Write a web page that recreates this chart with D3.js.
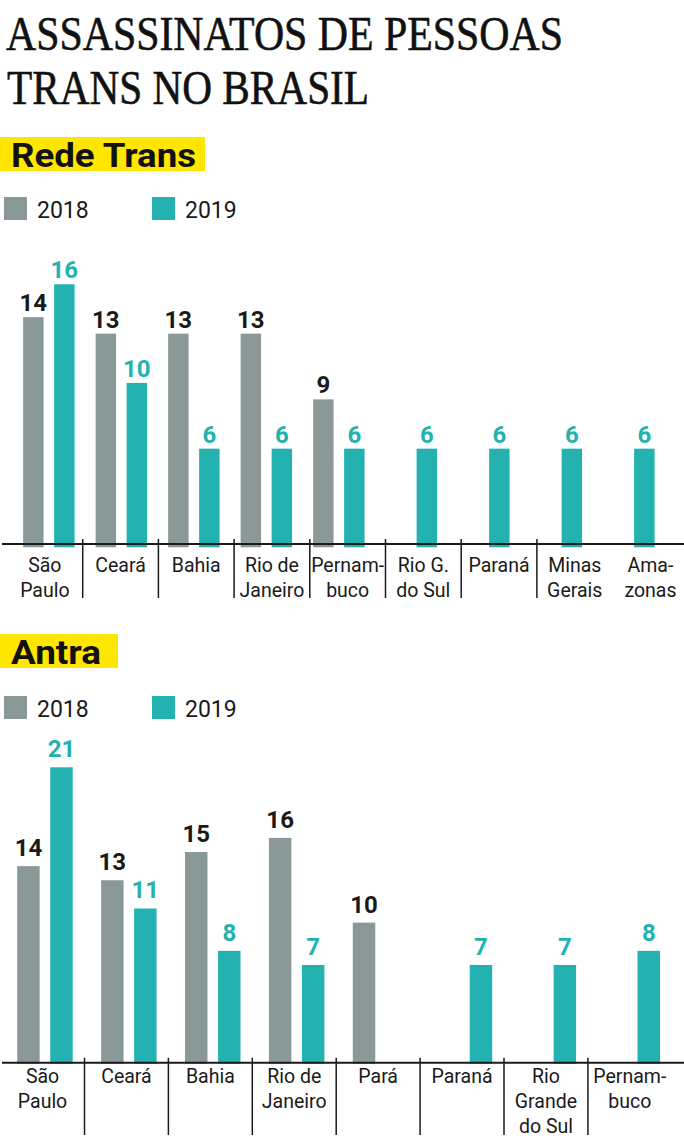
<!DOCTYPE html>
<html>
<head>
<meta charset="utf-8">
<script src="https://cdn.jsdelivr.net/npm/d3@7"></script>
<style>
  html, body { margin: 0; padding: 0; background: #fff; }
  svg { display: block; }
</style>
</head>
<body>
<svg id="chart" width="684" height="1140"></svg>
<script>
// ---------- DATA ----------
const titleLines = ["ASSASSINATOS DE PESSOAS", "TRANS NO BRASIL"];
const years = ["2018", "2019"];

const rtTitle = "Rede Trans";
const rtCategories = ["São\nPaulo", "Ceará", "Bahia", "Rio de\nJaneiro", "Pernam-\nbuco", "Rio G.\ndo Sul", "Paraná", "Minas\nGerais", "Ama-\nzonas"];
const rt2018 = [14, 13, 13, 13, 9, null, null, null, null];
const rt2019 = [16, 10, 6, 6, 6, 6, 6, 6, 6];

const anTitle = "Antra";
const anCategories = ["São\nPaulo", "Ceará", "Bahia", "Rio de\nJaneiro", "Pará", "Paraná", "Rio\nGrande\ndo Sul", "Pernam-\nbuco"];
const an2018 = [14, 13, 15, 16, 10, null, null, null];
const an2019 = [21, 11, 8, 7, null, 7, 7, 8];

// ---------- STYLE ----------
const C2018 = "#8a9997";
const C2019 = "#23b2b0";
const YELLOW = "#ffe600";
const INK = "#1a1a1a";
const SANS = "Roboto, 'Noto Sans', 'DejaVu Sans', sans-serif";
const SERIF = "'Liberation Serif', 'DejaVu Serif', serif";

const svg = d3.select("#chart");

// ---------- TITLE ----------
[[titleLines[0], 6, 50, 557], [titleLines[1], 7, 104, 362]].forEach(([txt, x, yy, w]) => {
  svg.append("text").attr("x", x).attr("y", yy)
    .attr("font-family", SERIF).attr("font-size", 48).attr("fill", "#111")
    .attr("stroke", "#111").attr("stroke-width", 0.6)
    .attr("textLength", w).attr("lengthAdjust", "spacingAndGlyphs")
    .text(txt);
});

function drawPanel(cfg) {
  const g = svg.append("g");
  // heading with yellow highlight
  g.append("rect").attr("x", 0).attr("y", cfg.headTop)
    .attr("width", cfg.headBoxW).attr("height", 34).attr("fill", YELLOW);
  g.append("text").attr("x", 11).attr("y", cfg.headTop + 29.5)
    .attr("font-family", SANS).attr("font-weight", 700).attr("font-size", 34)
    .attr("fill", "#111")
    .attr("textLength", cfg.headTextW).attr("lengthAdjust", "spacingAndGlyphs")
    .text(cfg.title);

  // legend
  const legendX = d3.scaleOrdinal().domain(years).range([4, 152]);
  const colour = d3.scaleOrdinal().domain(years).range([C2018, C2019]);
  years.forEach(yr => {
    g.append("rect").attr("x", legendX(yr)).attr("y", cfg.legendTop)
      .attr("width", 23).attr("height", 23).attr("fill", colour(yr));
    g.append("text").attr("x", legendX(yr) + 33).attr("y", cfg.legendTop + 21)
      .attr("font-family", SANS).attr("font-size", 23).attr("fill", INK)
      .text(yr);
  });

  // scales
  const xBar = d3.scaleBand().domain(cfg.cats).range(cfg.barRange);
  const xIn = d3.scaleBand().domain(years).range([0, xBar.bandwidth()])
    .paddingInner(cfg.padIn).paddingOuter(cfg.padOut);
  const xAxis = d3.scaleBand().domain(cfg.cats).range(cfg.axisRange);
  const y = d3.scaleLinear().domain([0, cfg.yMax]).range([cfg.base, cfg.yTop]);

  const series = [
    { year: "2018", values: cfg.v2018, label: INK },
    { year: "2019", values: cfg.v2019, label: C2019 }
  ];

  series.forEach(s => {
    const data = cfg.cats.map((c, i) => ({ cat: c, v: s.values[i] })).filter(d => d.v != null);
    g.selectAll(null).data(data).enter().append("rect")
      .attr("x", d => xBar(d.cat) + xIn(s.year))
      .attr("y", d => y(d.v))
      .attr("width", xIn.bandwidth())
      .attr("height", d => y(0) - y(d.v))
      .attr("fill", colour(s.year));
    g.selectAll(null).data(data).enter().append("text")
      .attr("x", d => xBar(d.cat) + xIn(s.year) + xIn.bandwidth() / 2)
      .attr("y", d => y(d.v) - cfg.labelGap)
      .attr("text-anchor", "middle")
      .attr("font-family", SANS).attr("font-weight", 700).attr("font-size", 24)
      .attr("fill", s.label)
      .text(d => d.v);
  });

  // axis baseline
  g.append("line").attr("x1", 2).attr("x2", 684)
    .attr("y1", cfg.axisY).attr("y2", cfg.axisY)
    .attr("stroke", INK).attr("stroke-width", 2);

  // separators between categories
  g.selectAll(null).data(cfg.cats.slice(1, 8)).enter().append("line")
    .attr("x1", d => xAxis(d)).attr("x2", d => xAxis(d))
    .attr("y1", cfg.axisY - 5).attr("y2", cfg.sepBottom)
    .attr("stroke", INK).attr("stroke-width", 1.5);

  // category labels
  cfg.cats.forEach(c => {
    const t = g.append("text")
      .attr("x", xAxis(c) + xAxis.bandwidth() / 2)
      .attr("y", cfg.axisY + cfg.labelOffset)
      .attr("text-anchor", "middle")
      .attr("font-family", SANS).attr("font-size", 19.5).attr("fill", INK);
    c.split("\n").forEach((line, i) => {
      t.append("tspan").attr("x", xAxis(c) + xAxis.bandwidth() / 2)
        .attr("dy", i === 0 ? 0 : 25).text(line);
    });
  });
}

drawPanel({
  title: rtTitle, headTop: 137, headBoxW: 205, headTextW: 185,
  legendTop: 197,
  cats: rtCategories, v2018: rt2018, v2019: rt2019,
  barRange: [12.6, 665.1], padIn: 0.34, padOut: 0.34,
  axisRange: [7, 688.3],
  yMax: 16, base: 547.3, yTop: 284.3,
  axisY: 544, sepBottom: 598, labelOffset: 27.5, labelGap: 6
});

drawPanel({
  title: anTitle, headTop: 634, headBoxW: 118, headTextW: 90,
  legendTop: 696,
  cats: anCategories, v2018: an2018, v2019: an2019,
  barRange: [3, 674.2], padIn: 0.32, padOut: 0.43,
  axisRange: [0.6, 671.8],
  yMax: 21, base: 1063.8, yTop: 767.3,
  axisY: 1062.7, sepBottom: 1135, labelOffset: 20.6, labelGap: 10
});
</script>
</body>
</html>
